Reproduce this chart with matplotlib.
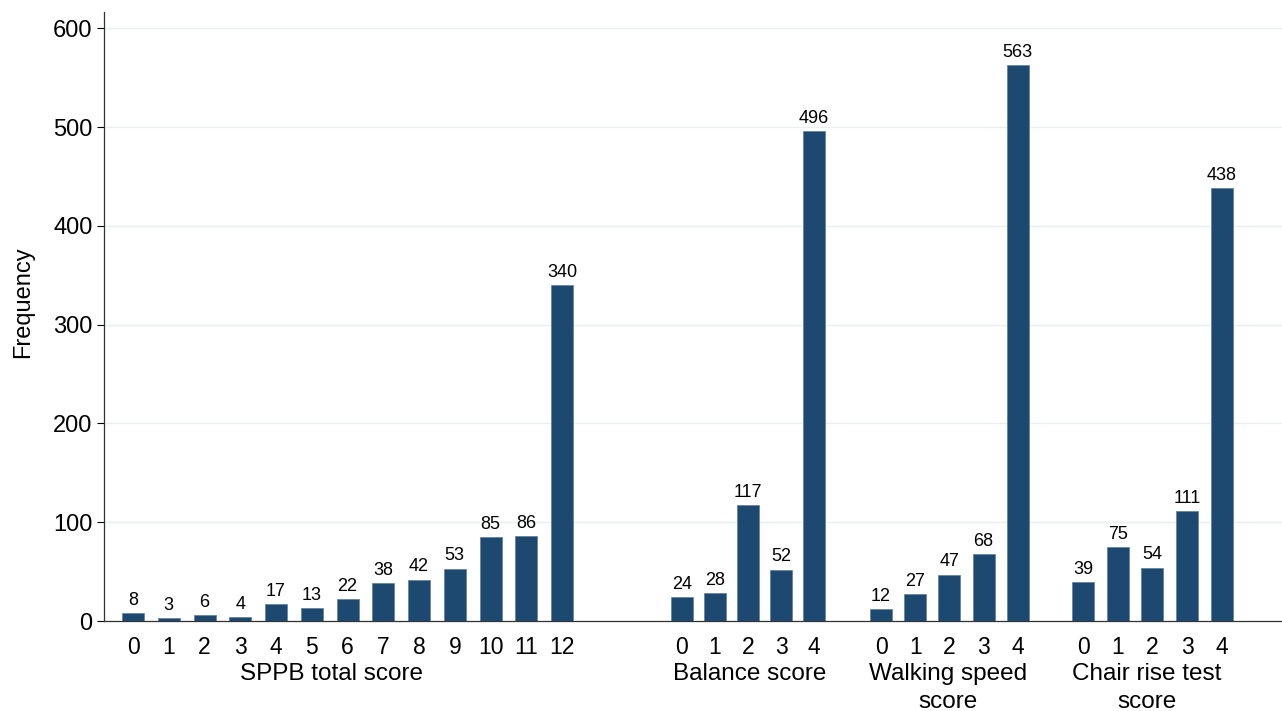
import numpy as np
import matplotlib
matplotlib.use("Agg")
import matplotlib.pyplot as plt
import matplotlib.transforms as mtransforms

plt.rcParams["font.family"] = ["Liberation Sans", "DejaVu Sans"]

# frequencies per score, one list per test
sppb_scores = [str(i) for i in range(13)]
sppb_freq = [8, 3, 6, 4, 17, 13, 22, 38, 42, 53, 85, 86, 340]

balance_scores = ["0", "1", "2", "3", "4"]
balance_freq = [24, 28, 117, 52, 496]

walking_scores = ["0", "1", "2", "3", "4"]
walking_freq = [12, 27, 47, 68, 563]

chair_scores = ["0", "1", "2", "3", "4"]
chair_freq = [39, 75, 54, 111, 438]

group_titles = ["SPPB total score", "Balance score", "Walking speed\nscore", "Chair rise test\nscore"]

groups = [
    (sppb_scores, sppb_freq),
    (balance_scores, balance_freq),
    (walking_scores, walking_freq),
    (chair_scores, chair_freq),
]

# layout: x axis runs in pixel-like units, each group has its own start and step
W, H = 1282, 711
group_start = [133, 682, 881, 1083]
group_step = [35.75, 33.0, 34.2, 34.7]
title_x = [331, 750, 948, 1147]
bar_w = 22
bar_color = "#1d4870"

fig = plt.figure(figsize=(W / 100, H / 100), dpi=100)
ax = fig.add_axes([103.5 / W, (H - 621) / H, (W - 103.5) / W, (621 - 12.5) / H])

ticks, labels = [], []
for (cats, vals), x0, step in zip(groups, group_start, group_step):
    xs = x0 + step * np.arange(len(cats))
    ax.bar(xs, vals, width=bar_w, color=bar_color, edgecolor="#5f7f9c",
           linewidth=0.5, zorder=3)
    for x, v in zip(xs, vals):
        ax.annotate(str(v), (x, v), xytext=(0, 3), textcoords="offset points",
                    ha="center", va="bottom", fontsize=13, color="black", zorder=4)
    ticks.extend(xs)
    labels.extend(cats)

ax.set_xlim(103.5, W)
ax.set_ylim(0, 616)
ax.set_yticks([0, 100, 200, 300, 400, 500, 600])
ax.tick_params(axis="y", labelsize=17, length=5, width=0.8, pad=3)
ax.set_xticks(ticks)
ax.set_xticklabels(labels)
ax.tick_params(axis="x", labelsize=16.5, length=0, pad=11)

ax.grid(axis="y", color="#e6f0f1", linewidth=1.0, zorder=0)
ax.set_axisbelow(True)
for s in ["top", "right"]:
    ax.spines[s].set_visible(False)
ax.spines["left"].set_color("#333333")
ax.spines["bottom"].set_color("#333333")
ax.spines["left"].set_linewidth(0.9)
ax.spines["bottom"].set_linewidth(0.9)

# y title placed in figure pixels
fig.text(23 / W, (H - 302) / H, "Frequency", rotation=90, ha="center", va="center",
         fontsize=17)

trans = mtransforms.blended_transform_factory(ax.transData, fig.transFigure)
for tx, title in zip(title_x, group_titles):
    ax.text(tx, (H - 663) / H, title, transform=trans, ha="center", va="top",
            fontsize=17.5, linespacing=1.35)

fig.savefig("out.png", dpi=100, facecolor="white")
